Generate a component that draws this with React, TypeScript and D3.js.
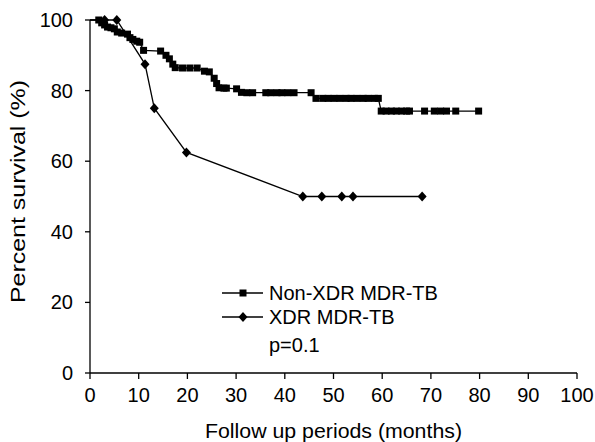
import React from "react";
import * as d3 from "d3";

const xTicks = [0, 10, 20, 30, 40, 50, 60, 70, 80, 90, 100];
const yTicks = [0, 20, 40, 60, 80, 100];

// Non-XDR MDR-TB: month, percent survival
const nonXdrMonths = [0, 1.8, 2.4, 3.0, 3.6, 4.3, 5.0, 5.6, 6.5, 7.7, 8.2, 8.8, 9.6, 10.2, 11.0, 14.5, 15.6, 16.3, 17.0, 17.5, 19.0, 20.5, 22.0, 23.5, 24.5, 25.5, 26.0, 26.5, 27.5, 28.0, 30.1, 31.1, 32.2, 33.4, 36.1, 37.1, 38.4, 39.4, 40.6, 41.9, 45.4, 46.4, 47.8, 48.9, 50.1, 51.3, 52.6, 53.6, 54.8, 56.1, 57.1, 58.4, 59.2, 59.8, 60.8, 61.9, 62.9, 64.0, 65.0, 65.6, 68.7, 70.7, 72.0, 73.2, 75.1, 79.8];
const nonXdrSurvival = [100, 100, 99.2, 98.6, 98.0, 97.8, 97.5, 96.6, 96.3, 96.0, 95.0, 94.5, 94.0, 93.7, 91.4, 91.2, 90.0, 89.0, 87.5, 86.5, 86.4, 86.4, 86.4, 85.5, 85.3, 83.5, 82.0, 80.8, 80.7, 80.7, 80.5, 79.5, 79.4, 79.4, 79.4, 79.4, 79.4, 79.4, 79.4, 79.4, 79.4, 77.8, 77.8, 77.8, 77.8, 77.8, 77.8, 77.8, 77.8, 77.8, 77.8, 77.8, 77.8, 74.2, 74.2, 74.2, 74.2, 74.2, 74.2, 74.2, 74.2, 74.2, 74.2, 74.2, 74.2, 74.2];

// XDR MDR-TB
const xdrMonths = [0, 3.0, 5.5, 11.3, 13.2, 19.8, 43.7, 47.6, 51.7, 54.0, 68.2];
const xdrSurvival = [100, 100, 100, 87.5, 75.0, 62.5, 50.0, 50.0, 50.0, 50.0, 50.0];

const legendLabels = ["Non-XDR MDR-TB", "XDR MDR-TB"];
const pValueLabel = "p=0.1";
const xTitle = "Follow up periods (months)";
const yTitle = "Percent survival (%)";

const W = 595;
const H = 442;
const FONT = "Liberation Sans, Arial, sans-serif";

export default function App() {
  const x = d3.scaleLinear().domain([0, 100]).range([90, 577]);
  const y = d3.scaleLinear().domain([0, 100]).range([373, 20]);

  const nonPts: [number, number][] = nonXdrMonths.map((m, i) => [m, nonXdrSurvival[i]]);
  const xdrPts: [number, number][] = xdrMonths.map((m, i) => [m, xdrSurvival[i]]);

  const line = d3
    .line<[number, number]>()
    .x((d) => x(d[0]))
    .y((d) => y(d[1]));

  const square = (cx: number, cy: number, k: string) => (
    <rect key={k} x={cx - 3.5} y={cy - 3.5} width={7} height={7} fill="#000" />
  );
  const diamond = (cx: number, cy: number, k: string) => (
    <path key={k} d={`M${cx},${cy - 5}L${cx + 4.5},${cy}L${cx},${cy + 5}L${cx - 4.5},${cy}Z`} fill="#000" />
  );

  return (
    <svg width={W} height={H} style={{ display: "block", position: "absolute", left: 0, top: 0, background: "#fff" }} fontFamily={FONT}>
      <rect x={0} y={0} width={W} height={H} fill="#fff" />
      {/* axes */}
      <line x1={x(0)} x2={x(100)} y1={y(0)} y2={y(0)} stroke="#000" strokeWidth={1.3} />
      <line x1={x(0)} x2={x(0)} y1={y(0)} y2={y(100)} stroke="#000" strokeWidth={1.3} />
      {xTicks.map((t) => (
        <g key={"xt" + t}>
          <line x1={x(t)} x2={x(t)} y1={y(0)} y2={y(0) + 6} stroke="#000" strokeWidth={1.3} />
          <text x={x(t)} y={y(0) + 29} textAnchor="middle" fontSize={20}>
            {t}
          </text>
        </g>
      ))}
      {yTicks.map((t) => (
        <g key={"yt" + t}>
          <line x1={x(0) - 5} x2={x(0)} y1={y(t)} y2={y(t)} stroke="#000" strokeWidth={1.3} />
          <text x={x(0) - 17} y={y(t) + 7} textAnchor="end" fontSize={20}>
            {t}
          </text>
        </g>
      ))}
      <text x={205} y={438} fontSize={20} textLength={257} lengthAdjust="spacingAndGlyphs">
        {xTitle}
      </text>
      <text transform={`translate(25,303) rotate(-90)`} fontSize={20} textLength={223} lengthAdjust="spacingAndGlyphs">
        {yTitle}
      </text>

      {/* series */}
      <path d={line(nonPts) || ""} fill="none" stroke="#000" strokeWidth={1.3} />
      <path d={line(xdrPts) || ""} fill="none" stroke="#000" strokeWidth={1.3} />
      {nonPts.slice(1).map((d, i) => square(x(d[0]), y(d[1]), "s" + i))}
      {xdrPts.slice(1).map((d, i) => diamond(x(d[0]), y(d[1]), "d" + i))}

      {/* legend */}
      <line x1={222} x2={263} y1={293} y2={293} stroke="#000" strokeWidth={1.3} />
      {square(243, 293, "ls")}
      <text x={269} y={300} fontSize={20}>{legendLabels[0]}</text>
      <line x1={222} x2={263} y1={317} y2={317} stroke="#000" strokeWidth={1.3} />
      {diamond(243, 317, "ld")}
      <text x={269} y={324} fontSize={20}>{legendLabels[1]}</text>
      <text x={269} y={352} fontSize={20}>{pValueLabel}</text>
    </svg>
  );
}
